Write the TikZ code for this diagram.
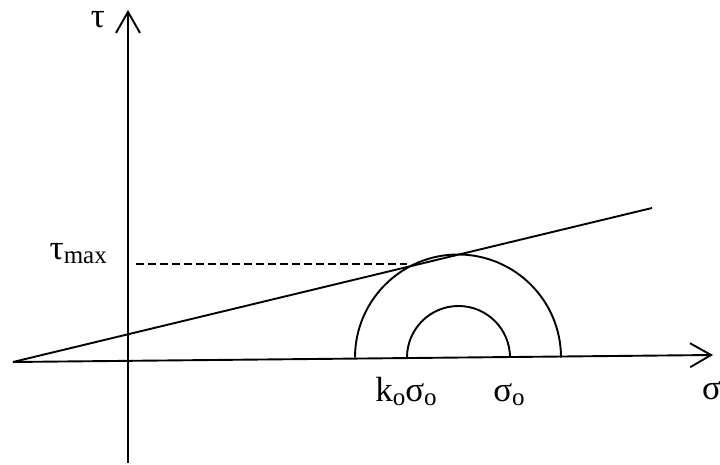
\documentclass[tikz,border=0pt]{standalone}
\usepackage{fontspec}
\setmainfont{Liberation Serif}
\usetikzlibrary{arrows.meta}
\newcommand{\lsub}[1]{\raisebox{-4pt}{\fontsize{25}{25}\selectfont #1}}
\tikzset{
  ax/.style={line width=1.9pt,-{Straight Barb[length=21pt,width=24pt,line width=1.9pt]}},
  ln/.style={line width=1.9pt},
  dsh/.style={line width=1.9pt,dash pattern=on 8pt off 4pt},
  lbl/.style={inner sep=0pt,font=\fontsize{35}{40}\selectfont},
}
\begin{document}
\begin{tikzpicture}[x=1pt,y=1pt]
\useasboundingbox (0,0) rectangle (720,465);
\clip (0,0) rectangle (720,465);
\coordinate (hl) at (13,103);
\coordinate (hr) at (713,110);
\coordinate (vb) at (128,2);
\coordinate (vt) at (128,455);
\coordinate (sl1) at (13,103);
\coordinate (sl2) at (652,257);
\coordinate (d1) at (136,201);
\coordinate (d2) at (407,201);
\coordinate (oL) at (355,107.5);
\coordinate (iL) at (407,107.5);
\draw[ax] (hl) -- (hr);
\draw[ax] (vb) -- (vt);
\draw[ln] (sl1) -- (sl2);
\draw[dsh] (d1) -- (d2);
\draw[ln] (oL) arc[start angle=180,end angle=0,radius=103];
\draw[ln] (iL) arc[start angle=180,end angle=0,radius=51.5];
\node[lbl,anchor=base] (tau) at (98,437) {τ};
\node[lbl,anchor=base east] (taumax) at (107,205) {τ\lsub{max}};
\node[lbl,anchor=base] (kso) at (406,63) {k\lsub{o}σ\lsub{o}};
\node[lbl,anchor=base] (so) at (509,63) {σ\lsub{o}};
\node[lbl,anchor=base west] (sig) at (702,65) {σ};
\end{tikzpicture}
\end{document}
